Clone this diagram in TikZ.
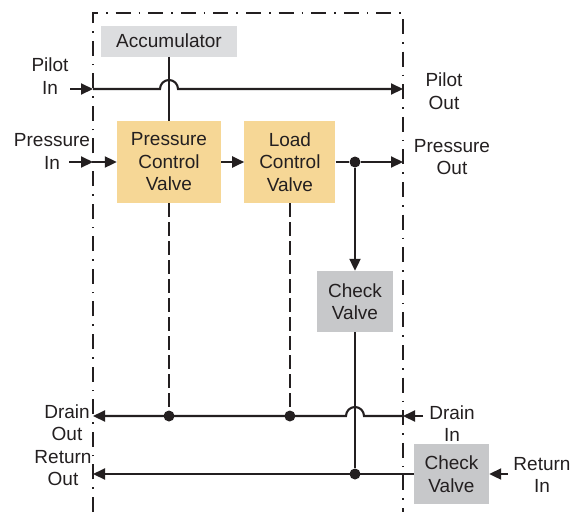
\documentclass[tikz,border=0pt]{standalone}
\usepackage{fontspec}
\setmainfont{Liberation Sans}
\usetikzlibrary{positioning, calc, arrows.meta}
\definecolor{inkgray}{HTML}{231F20}
\definecolor{valvefill}{HTML}{F6D796}
\definecolor{accfill}{HTML}{DCDDDF}
\definecolor{checkfill}{HTML}{C7C8CA}
\tikzstyle{tag} = [text=inkgray, align=center, inner sep=0pt]
\tikzstyle{valve} = [rectangle, fill=valvefill, text=inkgray, align=center, inner sep=0pt, minimum height=82pt]
\tikzstyle{store} = [rectangle, fill=accfill, text=inkgray, inner sep=0pt, minimum width=136pt, minimum height=31pt]
\tikzstyle{check} = [rectangle, fill=checkfill, text=inkgray, align=center, inner sep=0pt, minimum width=76pt, minimum height=61pt]
\tikzstyle{joint} = [circle, fill=inkgray, inner sep=0pt, minimum size=11pt]
\tikzstyle{pipe} = [draw=inkgray, line width=2.1pt]
\tikzstyle{arrow} = [pipe, -{Triangle[length=12pt, width=11pt]}]
\tikzstyle{drainpipe} = [pipe, dash pattern=on 14pt off 5pt]
\tikzstyle{frame} = [draw=inkgray, line width=1.6pt, dash pattern=on 15pt off 8pt on 1.6pt off 8pt]

\begin{document}
\begin{tikzpicture}[x=1pt, y=1pt, font=\fontsize{19pt}{22.5pt}\selectfont]
\useasboundingbox (0,0) rectangle (577,-512);
\coordinate (frameL) at (93,-13);
\coordinate (frameR) at (403,-13);
\draw [frame] (93,-512) |- (frameR) -- (403,-512);
\node (pcv) [valve, minimum width=104pt] at (169,-162) {Pressure\\Control\\Valve};
\node (lcv) [valve, minimum width=91pt, right=23pt of pcv] {Load\\Control\\Valve};
\node (acc) [store, above=64pt of pcv] {Accumulator};
\node (cv1) [check] at (355,-301.5) {Check\\Valve};
\node (cv2) [check, minimum width=75pt, minimum height=60pt] at (451.5,-474) {Check\\Valve};
\node (pilotIn) [tag] at (50,-76) {Pilot\\In};
\node (pressIn) [tag] at (52,-151.5) {Pressure\\In};
\node (pilotOut) [tag] at (444,-91) {Pilot\\Out};
\node (pressOut) [tag] at (452,-157) {Pressure\\Out};
\node (drainOut) [tag] at (67,-422.5) {Drain\\Out};
\node (retOut) [tag] at (63,-468) {Return\\Out};
\node (drainIn) [tag] at (452,-423.5) {Drain\\In};
\node (retIn) [tag] at (542,-475) {Return\\In};
\coordinate (pilotA) at (70,-89);
\coordinate (pilotL) at (frameL |- pilotA);
\coordinate (pilotR) at (frameR |- pilotA);
\draw [arrow] (pilotA) -- (pilotL);
\draw [arrow] (pilotL) -- ($(pilotL -| acc.south)+(-9,0)$) arc[start angle=180, end angle=0, radius=9pt] -- (pilotR);
\draw [pipe] (acc) -- (pcv);
\coordinate (pressL) at (frameL |- pcv.west);
\coordinate (pressA) at ($(pressL)+(-24,0)$);
\draw [arrow] (pressA) -- (pressL);
\draw [arrow] (pressL) -- (pcv);
\draw [arrow] (pcv) -- (lcv);
\node (jLoad) [joint] at (lcv.east -| cv1.north) {};
\coordinate (pressR) at (frameR |- jLoad);
\draw [pipe] (lcv) -- (jLoad);
\draw [arrow] (jLoad) -- (pressR);
\draw [arrow] (jLoad) -- (cv1);
\coordinate (drainL) at (93,-416);
\coordinate (drainR) at (frameR |- drainL);
\coordinate (drainA) at ($(drainR)+(20,0)$);
\node (jPcv) [joint] at (pcv.south |- drainL) {};
\node (jLcv) [joint] at (lcv.south |- drainL) {};
\draw [drainpipe] (pcv) -- (jPcv);
\draw [drainpipe] (lcv) -- (jLcv);
\draw [arrow] (drainA) -- (drainR);
\draw [arrow] (drainR) -- ($(drainR -| cv1.south)+(9,0)$) arc[start angle=0, end angle=180, radius=9pt] -- (drainL);
\node (jRet) [joint] at (cv1.south |- cv2.west) {};
\coordinate (retL) at (frameL |- cv2.west);
\coordinate (retA) at ($(cv2.east)+(19,0)$);
\draw [pipe] (cv1) -- (jRet);
\draw [arrow] (cv2) -- (retL);
\draw [arrow] (retA) -- (cv2);
\end{tikzpicture}
\end{document}
